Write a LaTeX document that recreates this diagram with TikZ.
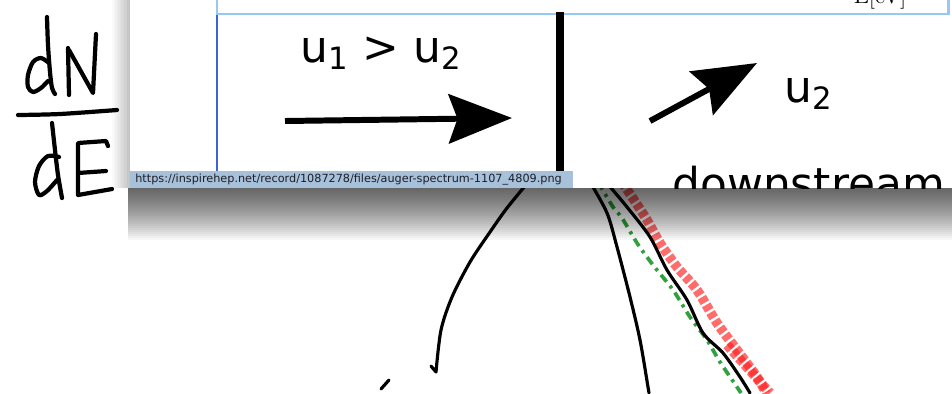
\documentclass[tikz,border=0pt]{standalone}
\usepackage{fontspec}
\newfontfamily\slidefont{DejaVu Sans}
\usetikzlibrary{arrows.meta}
\definecolor{boxblue}{RGB}{150,200,245}
\definecolor{edgeblue}{RGB}{60,100,210}
\definecolor{urlbar}{RGB}{168,193,218}
\definecolor{urltext}{RGB}{30,30,40}
\definecolor{fitgreen}{RGB}{50,160,60}
\definecolor{datared}{RGB}{255,30,30}

\begin{document}
\begin{tikzpicture}[x=0.02cm,y=-0.02cm,
  hand/.style={line width=2.4pt,line cap=round,line join=round},
  sketch/.style={line width=1.8pt,line cap=round,line join=round},
  slidearrow/.style={line width=3.4pt,-{Stealth[length=36pt,width=28pt,inset=5pt]}},
  slidetext/.style={font=\slidefont\fontsize{25}{30}\selectfont,inner sep=0pt},
  redpoints/.style={datared,opacity=.65,line width=5.5pt,dash pattern=on 3.5pt off 1.5pt}]
\useasboundingbox[fill=white] (0,0) rectangle (952,393);

% sketch of the spectrum under the window
\draw[redpoints] plot[smooth] coordinates {(622,182) (634,200) (647,220) (660,243) (677,267) (697,290) (717,323) (737,350) (757,377) (766,393)};
\draw[redpoints] plot[smooth] coordinates {(727,345) (745,365) (760,382) (770,393)};
\draw[fitgreen,line width=2.1pt,dash pattern=on 5pt off 3pt on 1.8pt off 3pt] plot[smooth] coordinates {(598,182) (613,207) (622,218) (637,243) (653,265) (673,290) (690,317) (707,340) (720,362) (737,387) (741,393)};
\draw[sketch] plot[smooth] coordinates {(606,182) (627,207) (650,237) (667,270) (687,300) (703,333) (723,353) (740,377) (750,393)};
\draw[sketch] plot[smooth] coordinates {(590,182) (607,213) (617,247) (630,297) (640,340) (648,387) (649,393)};
\draw[sketch] plot[smooth] coordinates {(530,180) (507,208) (490,232) (470,262) (452,297) (441,330) (436,372)} -- (431,366);
\draw[sketch] (389,380) -- (381,389);

% window shadow
\foreach \i in {1,...,26}
  \fill[black,opacity=.03] (128,188) rectangle (952,{188+2*\i});
\foreach \i in {1,...,12}
  \fill[black,opacity=.018] ({130-1.5*\i},0) rectangle (130,188);

% window
\fill[white] (130,-5) rectangle (960,188);
\begin{scope}
\clip (130,0) rectangle (952,188);
\draw[boxblue,line width=1.7pt] (217,-5) |- (948,14) -- (948,-5);
\draw[edgeblue,line width=0.8pt] (217,15) -- (217,175);
\node[font=\fontsize{13}{15}\selectfont,anchor=base,inner sep=0pt] (unit) at (880,3) {E[eV]};
\draw[line width=4.5pt] (560,12) -- (560,175);
\node[slidetext,anchor=base] (speeds) at (381,62) {u\textsubscript{1} > u\textsubscript{2}};
\coordinate (uptail) at (285,121);
\coordinate (uptip) at (512,118);
\draw[slidearrow] (uptail) -- (uptip);
\coordinate (downtail) at (650,121);
\coordinate (downtip) at (757,63);
\draw[slidearrow] (downtail) -- (downtip);
\node[slidetext,anchor=base] (downspeed) at (809,102) {u\textsubscript{2}};
\node[slidetext,anchor=base west] (downlabel) at (672,199) {downstream};
\end{scope}

% link bar
\fill[urlbar] (130,171) rectangle (573,188);
\node[anchor=west,inner sep=0pt,text=urltext,font=\slidefont\fontsize{6.4}{8}\selectfont] (url) at (135,179.5) {https://inspirehep.net/record/1087278/files/auger-spectrum-1107\_4809.png};

% dN/dE by hand
\draw[hand] plot[smooth] coordinates {(49,63) (41,58) (33,62) (28,75) (28,87) (33,92) (41,88) (48,81)};
\draw[hand] plot[smooth] coordinates {(47,17) (48,45) (50,72) (52,88) (55,94)};
\draw[hand] (68,48) -- (69,95);
\draw[hand] (69,50) -- (93,93) -- (96,34);
\draw[hand] plot[smooth] coordinates {(18,115) (60,114) (117,110)};
\draw[hand] plot[smooth] coordinates {(52,123) (55,150) (58,175) (62,198)};
\draw[hand] plot[smooth] coordinates {(59,157) (48,156) (39,166) (35,182) (39,195) (47,191) (57,180)};
\draw[hand] (108,146) -- (106,141) -- (78,143) -- (78,195) -- (112,189);
\draw[hand] (78,173) -- (106,171);
\end{tikzpicture}
\end{document}
